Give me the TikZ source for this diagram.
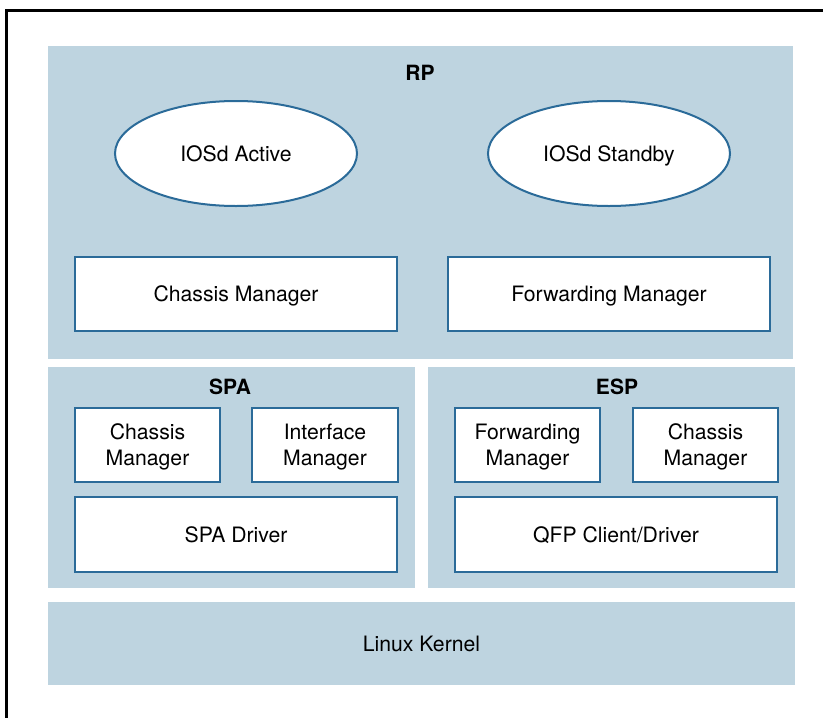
\documentclass[tikz,border=0pt]{standalone}
\usepackage{fontspec}
\setmainfont{TeX Gyre Heros}
\usepackage{xcolor}
\usetikzlibrary{shapes.geometric}

\definecolor{panelblue}{HTML}{BED4E0}
\definecolor{edgeblue}{HTML}{2B6B99}

\begin{document}
\begin{tikzpicture}[x=1pt, y=-1pt,
  panel/.style={rectangle, fill=panelblue, draw=none, inner sep=0pt},
  module/.style={rectangle, fill=white, draw=edgeblue, line width=2pt, inner sep=0pt,
    align=center, text depth=0pt, font=\fontsize{21.2}{26}\selectfont},
  process/.style={ellipse, fill=white, draw=edgeblue, line width=2pt, inner sep=0pt,
    minimum width=242, minimum height=105, text depth=0pt, font=\fontsize{21.2}{26}\selectfont},
  title/.style={font=\fontsize{21}{24}\selectfont\bfseries}]
  \useasboundingbox (0,0) rectangle (823,718);

  % Outer frame (only top and left edges fall inside the picture)
  \draw[line width=2.5pt] (823,10.3) -- (6.3,10.3) -- (6.3,718);

  % Panels
  \node[panel, minimum width=745, minimum height=313] (rp) at (420.5,202.5) {};
  \node[panel, minimum width=367.5, minimum height=221] (spa) at (231.25,477.5) {};
  \node[panel, minimum width=367, minimum height=221] (esp) at (611.5,477.5) {};
  \node[panel, minimum width=747, minimum height=83, text depth=0pt,
    font=\fontsize{21.2}{26}\selectfont] (kernel) at (421.5,643.5) {Linux Kernel};

  % Panel titles
  \node[title] (rplabel) at (420,73) {RP};
  \node[title] (spalabel) at (230,387) {SPA};
  \node[title] (esplabel) at (617,387) {ESP};

  % RP contents
  \node[process] (iosdact) at (236,153.5) {IOSd Active};
  \node[process] (iosdsby) at (609,153.5) {IOSd Standby};
  \node[module, minimum width=322, minimum height=74] (rpcm) at (236,294) {Chassis Manager};
  \node[module, minimum width=322, minimum height=74] (rpfm) at (609,294) {Forwarding Manager};

  % SPA contents
  \node[module, minimum width=145, minimum height=74] (spacm) at (147.5,445) {Chassis\\Manager};
  \node[module, minimum width=146, minimum height=74] (spaim) at (325,445) {Interface\\Manager};
  \node[module, minimum width=322, minimum height=75] (spadrv) at (236,534.5) {SPA Driver};

  % ESP contents
  \node[module, minimum width=145, minimum height=74] (espfm) at (527.5,445) {Forwarding\\Manager};
  \node[module, minimum width=145, minimum height=74] (espcm) at (705.5,445) {Chassis\\Manager};
  \node[module, minimum width=322, minimum height=75] (qfpdrv) at (616,534.5) {QFP Client/Driver};
\end{tikzpicture}
\end{document}
